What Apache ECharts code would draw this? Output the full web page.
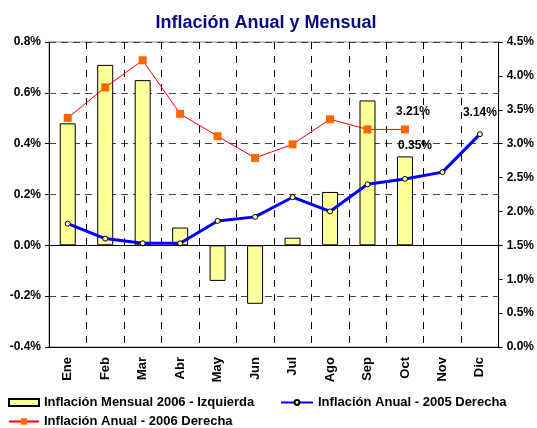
<!DOCTYPE html>
<html><head><meta charset="utf-8">
<script src="https://cdn.jsdelivr.net/npm/echarts@6/dist/echarts.min.js"></script>
<style>html,body{margin:0;padding:0;background:#fff}#c{width:537px;height:428px}</style>
</head><body><div id="c"></div>
<script>
const categories = ['Ene','Feb','Mar','Abr','May','Jun','Jul','Ago','Sep','Oct','Nov','Dic'];
const mensual2006 = [0.48,0.71,0.65,0.07,-0.14,-0.23,0.03,0.21,0.57,0.35,null,null];
const anual2005 = [1.82,1.60,1.53,1.53,1.86,1.92,2.21,2.00,2.40,2.48,2.58,3.14];
const anual2006 = [3.38,3.83,4.23,3.44,3.11,2.79,2.99,3.36,3.21,3.21,null,null];
const leftTicks = {min:-0.4, max:0.8, interval:0.2};
const rightTicks = {min:0, max:4.5, interval:0.5};
const names = ['Inflación Mensual 2006 - Izquierda','Inflación Anual - 2005 Derecha','Inflación Anual - 2006 Derecha'];

const lblFont = {fontFamily:'Liberation Sans, Arial, sans-serif', fontWeight:'bold', fontSize:12, color:'#000'};

function withLabel(arr, idx, text, extra){
  return arr.map((v,i)=> i===idx ? {value:v, label:Object.assign({show:true, formatter:text, position:'top'}, lblFont, extra)} : v);
}

const chart = echarts.init(document.getElementById('c'));
chart.setOption({
  animation:false,
  backgroundColor:'#fff',
  title:{text:'Inflación Anual y Mensual', left:261, textAlign:'center', top:9,
    textStyle:{fontFamily:'Liberation Sans, Arial, sans-serif', fontWeight:'bold', fontSize:18, color:'#0b0b80'}},
  grid:{left:49, right:38, top:42, bottom:81, show:true, borderColor:'#888', borderWidth:1},
  legend:[
    {data:[names[0]], left:8, top:396, padding:0, itemWidth:30, itemHeight:7, icon:'rect', itemGap:5,
      textStyle:Object.assign({}, lblFont, {fontSize:13})},
    {data:[names[1]], left:280, top:396, padding:0, itemWidth:32, itemHeight:6, itemGap:3,
      textStyle:Object.assign({}, lblFont, {fontSize:13})},
    {data:[names[2]], left:8, top:415, padding:0, itemWidth:30, itemHeight:8, itemGap:5,
      textStyle:Object.assign({}, lblFont, {fontSize:13})}
  ],
  xAxis:{type:'category', data:categories, boundaryGap:true,
    axisLine:{onZero:false, lineStyle:{color:'#000', width:1}},
    axisTick:{show:false},
    axisLabel:Object.assign({rotate:90, margin:10, interval:0}, lblFont, {fontSize:13}),
    splitLine:{show:true, interval:0, lineStyle:{color:'#000', type:[7,7], width:1}}},
  yAxis:[
    {type:'value', min:leftTicks.min, max:leftTicks.max, interval:leftTicks.interval, position:'left',
      axisLine:{show:true, lineStyle:{color:'#000'}},
      axisTick:{show:true, length:4, lineStyle:{color:'#000'}},
      axisLabel:Object.assign({margin:8, formatter:v=>v.toFixed(1)+'%'}, lblFont),
      splitLine:{show:true, lineStyle:{color:'#444', type:[7,5]}}},
    {type:'value', min:rightTicks.min, max:rightTicks.max, interval:rightTicks.interval, position:'right',
      axisLine:{show:true, lineStyle:{color:'#000'}},
      axisTick:{show:true, length:4, lineStyle:{color:'#000'}},
      axisLabel:Object.assign({margin:8, formatter:v=>v.toFixed(1)+'%'}, lblFont),
      splitLine:{show:false}}
  ],
  series:[
    {name:names[0], type:'bar', yAxisIndex:0, barWidth:16,
      data:withLabel(mensual2006, 9, '0.35%', {distance:5, offset:[10,0]}),
      itemStyle:{color:'#ffff99', borderColor:'#000', borderWidth:1},
      markLine:{silent:true, symbol:'none', label:{show:false}, lineStyle:{color:'#000', type:'solid', width:1},
        data:[{yAxis:0}]},
      z:2},
    {name:names[1], type:'line', yAxisIndex:1, data:withLabel(anual2005, 11, '3.14%', {distance:12}),
      symbol:'circle', symbolSize:5, showAllSymbol:true,
      lineStyle:{color:'#0000ff', width:3},
      itemStyle:{color:'#ffffa0', borderColor:'#000', borderWidth:1},
      z:4},
    {name:names[2], type:'line', yAxisIndex:1, data:withLabel(anual2006, 9, '3.21%', {distance:8, offset:[8,0]}),
      symbol:'rect', symbolSize:8, showAllSymbol:true,
      lineStyle:{color:'#ff0000', width:1},
      itemStyle:{color:'#ff6600', borderWidth:0},
      z:3}
  ]
});
</script></body></html>
